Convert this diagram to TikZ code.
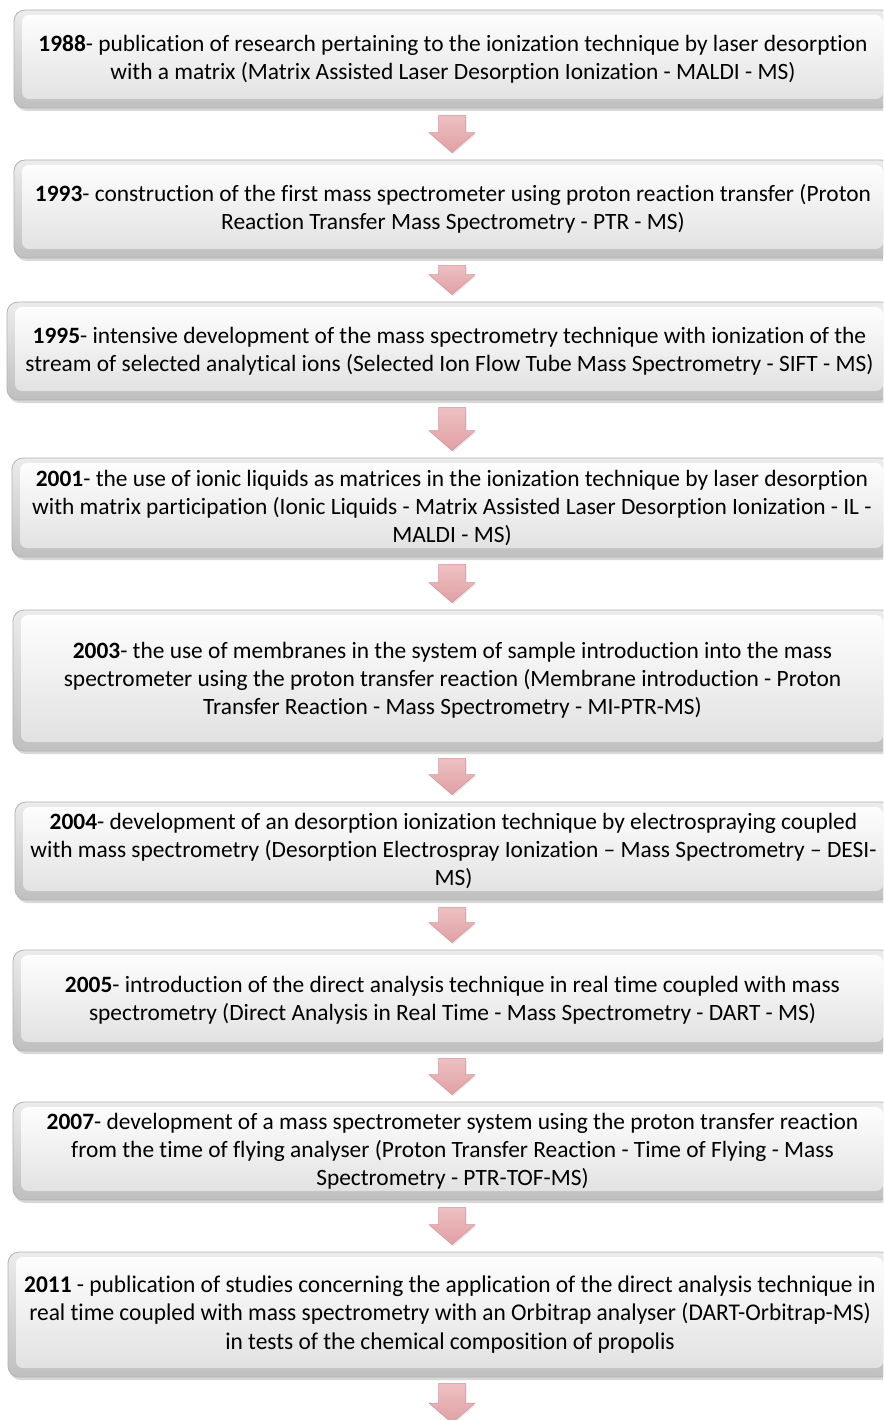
\documentclass[tikz,border=0pt]{standalone}
\usepackage{fontspec}
\setmainfont{Carlito}[Ligatures={NoCommon}]
\newfontfamily\condfont{Carlito}[Ligatures={NoCommon}, FakeStretch=0.975]
\usetikzlibrary{calc,shadows}
\definecolor{pinkA}{RGB}{238,192,194}
\definecolor{pinkB}{RGB}{224,160,164}
\definecolor{pinkD}{RGB}{214,150,154}
\tikzset{
  box/.style={rounded corners=11pt, draw=gray!60, line width=0.8pt,
    top color=gray!15, bottom color=gray!50,
    drop shadow={opacity=0.3, shadow xshift=1.5pt, shadow yshift=-3pt},
    align=center, font=\fontsize{23.4}{28}\selectfont, text=black, inner sep=0pt,
    path picture={\shade[top color=white, bottom color=gray!25, rounded corners=7pt]
      ([shift={(8pt,-5pt)}]path picture bounding box.north west) rectangle
      ([shift={(-9pt,9pt)}]path picture bounding box.south east);}},
  arr/.style={draw=pinkD, line width=0.5pt, top color=pinkA, bottom color=pinkB,
    drop shadow={opacity=0.2, shadow xshift=1pt, shadow yshift=-1.5pt}, line join=miter}
}
\newcommand\blockarrowpts[2]{%
  \draw[arr] ($(#1)+(-13.5,0)$) -- ($(#1)+(13.5,0)$) -- ($(#2)+(13.5,20)$) -- ($(#2)+(23,20)$)
    -- (#2) -- ($(#2)+(-23,20)$) -- ($(#2)+(-13.5,20)$) -- cycle;}
\newcommand\blockarrow[2]{%
  \path (colx |- #1.south) ++(0,-7) coordinate (aT);
  \path (colx |- #2.north) ++(0,7) coordinate (aB);
  \blockarrowpts{aT}{aB}}
\begin{document}
\begin{tikzpicture}[x=1pt,y=1pt]
\useasboundingbox (0,0) rectangle (883,-1420);
\clip (0,0) rectangle (883,-1420);
\fill[white] (0,0) rectangle (883,-1420);
\coordinate (colx) at (452,0);

\node[box, minimum width=878, minimum height=98] (b1) at (453,-59)
 {\textbf{1988}- publication of research pertaining to the ionization technique by laser desorption\\
  with a matrix (Matrix Assisted Laser Desorption Ionization - MALDI - MS)};
\node[box, minimum width=878, minimum height=98] (b2) at (453,-209)
 {\textbf{1993}- construction of the first mass spectrometer using proton reaction transfer (Proton\\
  Reaction Transfer Mass Spectrometry - PTR - MS)};
\node[box, minimum width=885, minimum height=98] (b3) at (449.5,-351)
 {\textbf{1995}- intensive development of the mass spectrometry technique with ionization of the\\
  stream of selected analytical ions (Selected Ion Flow Tube Mass Spectrometry - SIFT - MS)};
\node[box, minimum width=880, minimum height=99] (b4) at (452,-507.5)
 {\textbf{2001}- the use of ionic liquids as matrices in the ionization technique by laser desorption\\
  with matrix participation (Ionic Liquids - Matrix Assisted Laser Desorption Ionization - IL -\\
  MALDI - MS)};
\node[box, minimum width=879, minimum height=141] (b5) at (452.5,-680.5)
 {\textbf{2003}- the use of membranes in the system of sample introduction into the mass\\
  spectrometer using the proton transfer reaction (Membrane introduction - Proton\\
  Transfer Reaction - Mass Spectrometry - MI-PTR-MS)};
\node[box, minimum width=877, minimum height=98] (b6) at (453.5,-851)
 {\textbf{2004}- development of an desorption ionization technique by electrospraying coupled\\
  with mass spectrometry (Desorption Electrospray Ionization – Mass Spectrometry – DESI-\\
  MS)};
\node[box, minimum width=879, minimum height=101] (b7) at (452.5,-1000.5)
 {\textbf{2005}- introduction of the direct analysis technique in real time coupled with mass\\
  spectrometry (Direct Analysis in Real Time - Mass Spectrometry - DART - MS)};
\node[box, minimum width=879, minimum height=98] (b8) at (452.5,-1151)
 {\textbf{2007}- development of a mass spectrometer system using the proton transfer reaction\\
  from the time of flying analyser (Proton Transfer Reaction - Time of Flying - Mass\\
  Spectrometry - PTR-TOF-MS)};
\node[box, minimum width=884, minimum height=125, font=\condfont\fontsize{24}{28.5}\selectfont] (b9) at (450,-1314.5)
 {\textbf{2011} - publication of studies concerning the application of the direct analysis technique in\\
  real time coupled with mass spectrometry with an Orbitrap analyser (DART-Orbitrap-MS)\\
  in tests of the chemical composition of propolis};

\blockarrow{b1}{b2}
\blockarrow{b2}{b3}
\blockarrow{b3}{b4}
\blockarrow{b4}{b5}
\blockarrow{b5}{b6}
\blockarrow{b6}{b7}
\blockarrow{b7}{b8}
\blockarrow{b8}{b9}
\coordinate (endpt) at (452,-1423);
\path (colx |- b9.south) ++(0,-6) coordinate (aT);
\blockarrowpts{aT}{endpt}
\end{tikzpicture}
\end{document}
